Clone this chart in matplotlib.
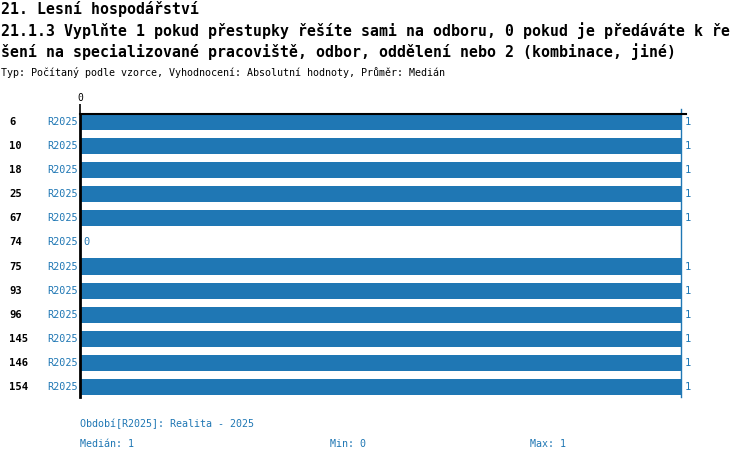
import matplotlib
matplotlib.use("Agg")
import matplotlib.pyplot as plt

# Data
categories = ["6", "10", "18", "25", "67", "74", "75", "93", "96", "145", "146", "154"]
periods = ["R2025"] * 12
values = [1, 1, 1, 1, 1, 0, 1, 1, 1, 1, 1, 1]
tick_values = [0]

title1 = "21. Lesní hospodářství"
title2 = "21.1.3 Vyplňte 1 pokud přestupky řešíte sami na odboru, 0 pokud je předáváte k ře"
title3 = "šení na specializované pracoviště, odbor, oddělení nebo 2 (kombinace, jiné)"
subtitle = "Typ: Počítaný podle vzorce, Vyhodnocení: Absolutní hodnoty, Průměr: Medián"
legend_text = "Období[R2025]: Realita - 2025"
stats = [("Medián: 1", 80), ("Min: 0", 330), ("Max: 1", 530)]

W, H = 750, 462
blue = "#1f77b4"
mono = "DejaVu Sans Mono"

fig = plt.figure(figsize=(W / 100, H / 100), dpi=100)

def fx(px):
    return px / W

def fy(py):
    return 1 - py / H

ax_left, ax_right, ax_top, ax_bot = 80, 681, 114, 397
ax = fig.add_axes([fx(ax_left), fy(ax_bot), fx(ax_right - ax_left), (ax_bot - ax_top) / H])

n = len(categories)
ypos = list(range(n))
ax.barh(ypos, values, height=0.67, color=blue, zorder=2)
ax.set_xlim(0, 1)
ax.set_ylim(n - 1 + 0.415, -0.33)

for s in ax.spines.values():
    s.set_visible(False)
ax.set_yticks([])
ax.xaxis.tick_top()
ax.set_xticks(tick_values)
ax.set_xticklabels([str(t) for t in tick_values], fontfamily=mono, fontsize=7)
ax.tick_params(axis="x", length=7, width=1.2, color="black", pad=1)

# axis lines
top = -0.33
ax.plot([0, 0], [n - 1 + 0.415, top], color="black", lw=2, clip_on=False, zorder=3)
ax.plot([0, 1.008], [top, top], color="black", lw=1.5, clip_on=False, zorder=3)
ax.plot([1, 1], [n - 1 + 0.415, top - 0.2], color=blue, lw=1, clip_on=False, zorder=1)

for i, (cat, per, v) in enumerate(zip(categories, periods, values)):
    ax.annotate(cat, xy=(0, i), xycoords=("axes fraction", "data"),
                xytext=(fx(9), 0), textcoords=("figure fraction", "offset points"),
                ha="left", va="center", fontfamily=mono, fontweight="bold", fontsize=7.6)
    ax.annotate(per, xy=(0, i), xycoords="data", xytext=(-1.5, 0),
                textcoords="offset points", ha="right", va="center",
                fontfamily=mono, fontsize=7.3, color=blue)
    ax.annotate(str(v), xy=(v, i), xycoords="data", xytext=(2.5, 0),
                textcoords="offset points", ha="left", va="center",
                fontfamily=mono, fontsize=7.5, color=blue)

fig.text(fx(1), fy(9), title1, fontfamily=mono, fontweight="bold", fontsize=10.75, va="center")
fig.text(fx(1), fy(31), title2, fontfamily=mono, fontweight="bold", fontsize=10.75, va="center")
fig.text(fx(1), fy(52), title3, fontfamily=mono, fontweight="bold", fontsize=10.75, va="center")
fig.text(fx(1), fy(73), subtitle, fontfamily=mono, fontsize=7.2, va="center")

fig.text(fx(80), fy(424), legend_text, fontfamily=mono, fontsize=7.2, color=blue, va="center")
for txt, x in stats:
    fig.text(fx(x), fy(444), txt, fontfamily=mono, fontsize=7.2, color=blue, va="center")

fig.savefig("out.png", dpi=100)
